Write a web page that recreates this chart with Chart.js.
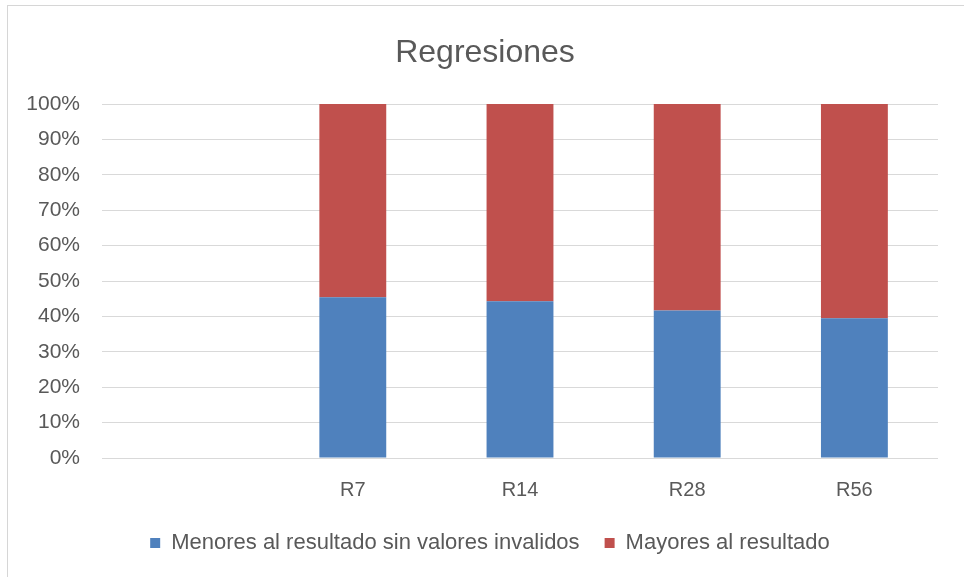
<!DOCTYPE html>
<html>
<head>
<meta charset="utf-8">
<script src="https://cdn.jsdelivr.net/npm/chart.js@4/dist/chart.umd.min.js"></script>
<style>
  html, body { margin: 0; padding: 0; background: #ffffff; }
  #wrap { position: relative; width: 964px; height: 577px; overflow: hidden; }
  #frame {
    position: absolute; left: 7px; top: 5px; width: 1000px; height: 600px;
    border-top: 1px solid #d6d6d6; border-left: 1px solid #d6d6d6;
    pointer-events: none;
  }
  canvas { display: block; }
</style>
</head>
<body>
<div id="wrap">
  <canvas id="chart" width="964" height="577"></canvas>
  <div id="frame"></div>
</div>
<script>
// Categories (the first slot is intentionally empty)
const categories = ['', 'R7', 'R14', 'R28', 'R56'];

// Share of results per regression, in percent
const menores = [null, 45.4, 44.3, 41.7, 39.5];
const mayores = [null, 54.6, 55.7, 58.3, 60.5];

const seriesNames = ['Menores al resultado sin valores invalidos', 'Mayores al resultado'];
const yTicks = [0, 10, 20, 30, 40, 50, 60, 70, 80, 90, 100];

const textColor = '#595959';
const fontFamily = '"Liberation Sans", Arial, sans-serif';

// Nudge the title and legend so they are centred on the whole frame
const centreShift = {
  id: 'centreShift',
  afterLayout(chart) {
    const t = chart.titleBlock, l = chart.legend;
    if (t) { t.left += 6; t.right += 6; }
    if (l) { l.left += 11; l.right += 11; }
  }
};

new Chart(document.getElementById('chart'), {
  type: 'bar',
  data: {
    labels: categories,
    datasets: [
      { label: seriesNames[0], data: menores, backgroundColor: '#4F81BD', borderWidth: 0 },
      { label: seriesNames[1], data: mayores, backgroundColor: '#C0504D', borderWidth: 0 }
    ]
  },
  plugins: [centreShift],
  options: {
    responsive: false,
    animation: false,
    layout: { padding: { left: 20, right: 26, top: 0, bottom: 13 } },
    datasets: { bar: { categoryPercentage: 1, barPercentage: 0.4 } },
    plugins: {
      title: {
        display: true,
        text: 'Regresiones',
        color: textColor,
        font: { family: fontFamily, size: 32, weight: 'normal' },
        padding: { top: 34, bottom: 31.6 }
      },
      legend: {
        position: 'bottom',
        labels: {
          color: textColor,
          font: { family: fontFamily, size: 22 },
          boxWidth: 10,
          boxHeight: 10,
          padding: 25
        }
      },
      tooltip: { enabled: false }
    },
    scales: {
      x: {
        stacked: true,
        grid: { display: false, drawTicks: false },
        border: { display: false },
        ticks: { color: textColor, font: { family: fontFamily, size: 20 }, padding: 20 },
        afterFit(scale) { scale.height = 49; }
      },
      y: {
        stacked: true,
        min: 0,
        max: 100,
        afterBuildTicks(scale) { scale.ticks = yTicks.map(v => ({ value: v })); },
        grid: { color: '#D9D9D9', lineWidth: 1, drawTicks: false },
        border: { display: false },
        ticks: {
          color: textColor,
          font: { family: fontFamily, size: 21 },
          padding: 22,
          callback: v => v + '%'
        },
        afterFit(scale) { scale.width = 82; }
      }
    }
  }
});
</script>
</body>
</html>
